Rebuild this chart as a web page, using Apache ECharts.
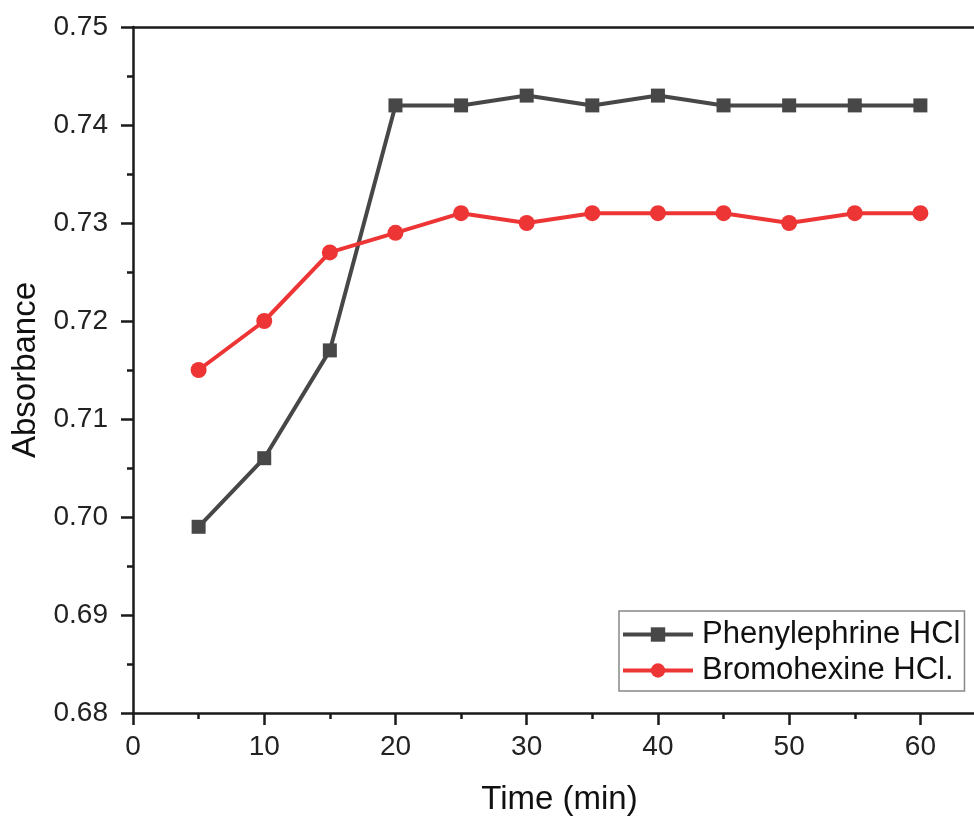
<!DOCTYPE html>
<html><head><meta charset="utf-8">
<script src="https://cdn.jsdelivr.net/npm/echarts@6/dist/echarts.min.js"></script>
<style>html,body{margin:0;padding:0;background:#fff}#c{width:974px;height:820px}</style>
</head><body><div id="c"></div>
<script>
const times = [5,10,15,20,25,30,35,40,45,50,55,60];
const phenylephrine = [0.699,0.706,0.717,0.742,0.742,0.743,0.742,0.743,0.742,0.742,0.742,0.742];
const bromohexine = [0.715,0.720,0.727,0.729,0.731,0.730,0.731,0.731,0.731,0.730,0.731,0.731];
const seriesNames = ['Phenylephrine HCl','Bromohexine HCl.'];
const xTicks = [0,10,20,30,40,50,60];
const yTicks = [0.68,0.69,0.70,0.71,0.72,0.73,0.74,0.75];

const chart = echarts.init(document.getElementById('c'));
const font = '"Liberation Sans", Arial, sans-serif';
const ink = '#1a1a1a';
const axisLine = {show:true, lineStyle:{color:ink, width:2.5}};
chart.setOption({
  animation:false,
  backgroundColor:'#fff',
  grid:{left:133, top:27, right:-12, bottom:107, outerBoundsMode:'none', containLabel:false},
  legend:{
    left:619, top:611, orient:'vertical', itemWidth:70, itemHeight:18, itemGap:5,
    padding:[8,4,5,2], borderColor:'#888', borderWidth:1.5, backgroundColor:'#fff',
    textStyle:{fontFamily:font, fontSize:31, color:'#111', padding:[0,0,0,4]},
    lineStyle:{width:4},
    data:seriesNames
  },
  xAxis:[{
    type:'value', min:0, max:65, interval:10,
    name:'Time (min)', nameLocation:'middle', nameGap:70,
    nameTextStyle:{fontFamily:font, fontSize:33, color:'#111'},
    axisLine:axisLine,
    axisTick:{show:true, inside:false, length:12, lineStyle:{color:ink, width:2.5}},
    minorTick:{show:true, splitNumber:2, length:6, lineStyle:{color:ink, width:2.5}},
    axisLabel:{fontFamily:font, fontSize:28, color:'#222', margin:20,
      formatter:v => xTicks.includes(v) ? String(v) : ''},
    splitLine:{show:false}
  },{
    type:'value', position:'top', min:0, max:65,
    axisLine:axisLine, axisTick:{show:false}, axisLabel:{show:false}, splitLine:{show:false}
  }],
  yAxis:{
    type:'value', min:0.68, max:0.75, interval:0.01,
    name:'Absorbance', nameLocation:'middle', nameGap:88,
    nameTextStyle:{fontFamily:font, fontSize:33, color:'#111'},
    axisLine:axisLine,
    axisTick:{show:true, inside:false, length:12, lineStyle:{color:ink, width:2.5}},
    minorTick:{show:true, splitNumber:2, length:6, lineStyle:{color:ink, width:2.5}},
    axisLabel:{fontFamily:font, fontSize:28, color:'#222', margin:25,
      formatter:v => v.toFixed(2)},
    splitLine:{show:false}
  },
  series:[{
    name:seriesNames[0], type:'line', data:times.map((t,i)=>[t,phenylephrine[i]]),
    symbol:'rect', symbolSize:14, color:'#474747',
    lineStyle:{width:4, color:'#474747'}, itemStyle:{color:'#474747'}
  },{
    name:seriesNames[1], type:'line', data:times.map((t,i)=>[t,bromohexine[i]]),
    symbol:'circle', symbolSize:16, color:'#ee3535',
    lineStyle:{width:4, color:'#ee3535'}, itemStyle:{color:'#ee3535'}
  }]
});
</script></body></html>
